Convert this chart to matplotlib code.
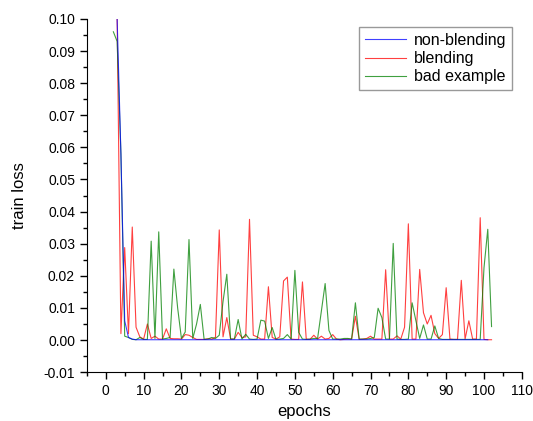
import numpy as np
import matplotlib
matplotlib.use("Agg")
import matplotlib.pyplot as plt
from matplotlib.ticker import MultipleLocator, FormatStrFormatter

plt.rcParams['font.family'] = ['Liberation Sans', 'DejaVu Sans']

# train loss per epoch
epochs_nb = list(range(3, 102))
non_blending = [0.100, 0.058, 0.006, 0.0008, 0.0003] + [0.0001] * 94

epochs_b = list(range(3, 103))
blending = [
    0.100, 0.002, 0.0288, 0.002, 0.0352, 0.004, 0.001, 0.0003, 0.005, 0.0005,   # 3-12
    0.0012, 0.0003, 0.0003, 0.0035, 0.0005, 0.0004, 0.0004, 0.0003, 0.0017, 0.0015,  # 13-22
    0.0008, 0.0002, 0.0002, 0.0002, 0.0004, 0.0003, 0.0008, 0.0343, 0.001, 0.007,  # 23-32
    0.0003, 0.0003, 0.0024, 0.0008, 0.001, 0.0376, 0.0015, 0.001, 0.0003, 0.0003,  # 33-42
    0.0166, 0.0008, 0.0003, 0.001, 0.0184, 0.0196, 0.0003, 0.0002, 0.0002, 0.0181,  # 43-52
    0.0003, 0.0002, 0.0015, 0.0003, 0.0012, 0.0003, 0.0005, 0.0017, 0.0003, 0.0001,  # 53-62
    0.0002, 0.0003, 0.0003, 0.0074, 0.0002, 0.0003, 0.0005, 0.0012, 0.0003, 0.0003,  # 63-72
    0.0003, 0.0219, 0.0003, 0.0003, 0.0013, 0.0003, 0.004, 0.0362, 0.0003, 0.0003,  # 73-82
    0.022, 0.0085, 0.005, 0.0077, 0.002, 0.0005, 0.0017, 0.0163, 0.0003, 0.0002,  # 83-92
    0.0002, 0.0186, 0.0003, 0.006, 0.0003, 0.0003, 0.0381, 0.0002, 0.0001, 0.0001,  # 93-102
]

epochs_bad = list(range(2, 103))
bad_example = [
    0.096, 0.093, 0.058, 0.0012, 0.0008, 0.0002, 0.0001, 0.0008, 0.0002, 0.0002,  # 2-11
    0.0308, 0.0005, 0.0337, 0.0003, 0.0005, 0.0008, 0.0221, 0.010, 0.0005, 0.0025,  # 12-21
    0.0313, 0.0005, 0.005, 0.0111, 0.0002, 0.0003, 0.0008, 0.0005, 0.0015, 0.012,  # 22-31
    0.0205, 0.0003, 0.0003, 0.0064, 0.0003, 0.0018, 0.0003, 0.0002, 0.0003, 0.0062,  # 32-41
    0.0059, 0.0005, 0.0039, 0.0002, 0.0003, 0.0005, 0.0017, 0.0003, 0.0217, 0.0024,  # 42-51
    0.0003, 0.0002, 0.0003, 0.0005, 0.0005, 0.009, 0.0176, 0.003, 0.0003, 0.0003,  # 52-61
    0.0003, 0.0005, 0.0005, 0.0003, 0.0116, 0.0003, 0.0003, 0.0003, 0.0005, 0.0008,  # 62-71
    0.0099, 0.007, 0.0003, 0.0003, 0.0301, 0.0003, 0.0002, 0.0002, 0.0003, 0.0116,  # 72-81
    0.006, 0.0005, 0.0047, 0.0003, 0.0003, 0.0044, 0.0005, 0.0002, 0.0002, 0.0002,  # 82-91
    0.0002, 0.0002, 0.0002, 0.0002, 0.0002, 0.0002, 0.0002, 0.0002, 0.0225, 0.0345,  # 92-101
    0.0042,  # 102
]

fig = plt.figure(figsize=(5.33, 4.21), dpi=100)
ax = fig.add_axes([0.163, 0.116, 0.816, 0.839])

l2, = ax.plot(epochs_b, blending, color='red', lw=0.8, alpha=0.75, label='blending')
l3, = ax.plot(epochs_bad, bad_example, color='#008000', lw=0.8, alpha=0.75, label='bad example')
l1, = ax.plot(epochs_nb, non_blending, color='blue', lw=0.8, alpha=0.75, label='non-blending')

ax.set_xlim(-5, 110)
ax.set_ylim(-0.01, 0.10)
ax.xaxis.set_major_locator(MultipleLocator(10))
ax.xaxis.set_minor_locator(MultipleLocator(5))
ax.yaxis.set_major_locator(MultipleLocator(0.01))
ax.yaxis.set_minor_locator(MultipleLocator(0.005))
ax.yaxis.set_major_formatter(FormatStrFormatter('%.2f'))
ax.tick_params(which='major', direction='out', length=5, width=1, labelsize=10)
ax.tick_params(which='minor', direction='out', length=3, width=1)
ax.spines['top'].set_visible(False)
ax.spines['right'].set_visible(False)
ax.set_xlabel('epochs', fontsize=12)
ax.set_ylabel('train loss', fontsize=12, labelpad=12)

leg = ax.legend(handles=[l1, l2, l3], loc='upper right', bbox_to_anchor=(0.978, 0.976),
                borderaxespad=0, fancybox=False, fontsize=11.5, handlelength=2.6,
                labelspacing=0.2, borderpad=0.35, handletextpad=0.5)
leg.get_frame().set_edgecolor('gray')
leg.get_frame().set_linewidth(1)

plt.savefig("out.png")
